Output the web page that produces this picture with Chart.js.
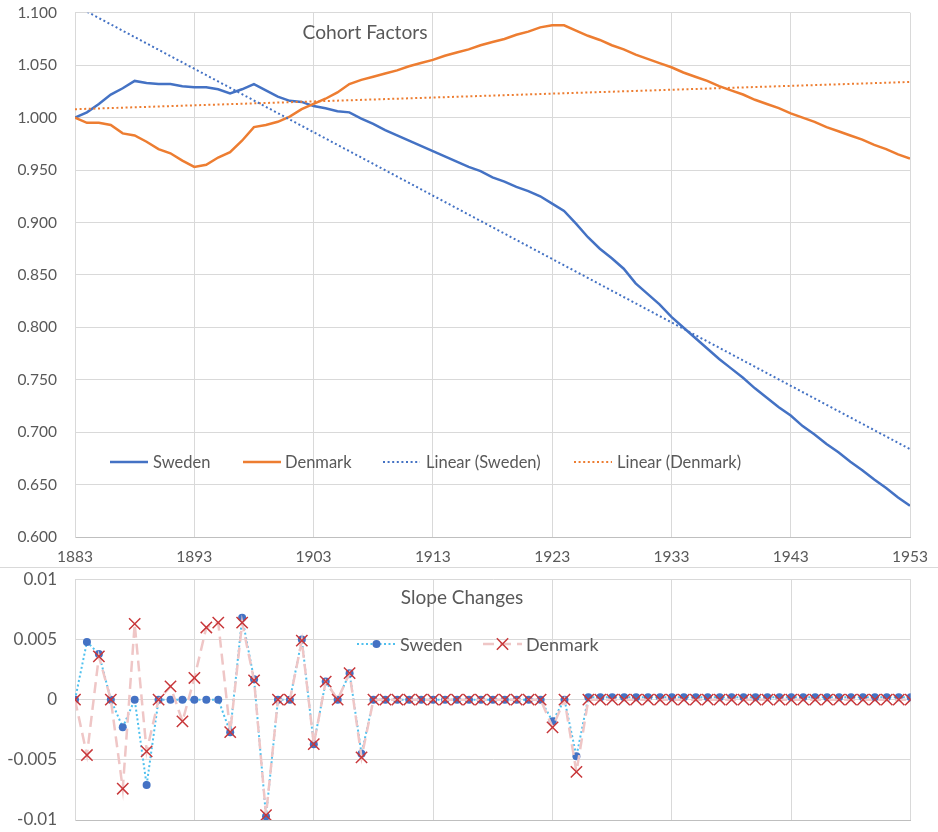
<!DOCTYPE html>
<html>
<head>
<meta charset="utf-8">
<script src="https://cdn.jsdelivr.net/npm/chart.js@4.4.1/dist/chart.umd.min.js"></script>
<style>
    body { margin: 0; background: #fff; }
    #top-wrap { position: absolute; left: 0; top: 0; width: 938px; height: 567px; }
    #sep { position: absolute; left: 0; top: 567px; width: 938px; height: 1px; background: #d9d9d9; }
    #bottom-wrap { position: absolute; left: 0; top: 568px; width: 938px; height: 264px; }
</style>
</head>
<body>
<div id="top-wrap"><canvas id="cohortChart" width="938" height="567"></canvas></div>
<div id="sep"></div>
<div id="bottom-wrap"><canvas id="slopeChart" width="938" height="264"></canvas></div>
<script>
// birth cohorts, one per year
const years = Array.from({ length: 71 }, (_, i) => 1883 + i);
const yearTicks = [1883, 1893, 1903, 1913, 1923, 1933, 1943, 1953];

// cohort factors
const swedenFactors = [
    1.000, 1.005, 1.013, 1.022, 1.028, 1.035, 1.033, 1.032, 1.032, 1.030,
    1.029, 1.029, 1.027, 1.023, 1.027, 1.032, 1.026, 1.020, 1.016, 1.015,
    1.011, 1.009, 1.006, 1.005, 0.999, 0.994, 0.988, 0.983, 0.978, 0.973,
    0.968, 0.963, 0.958, 0.953, 0.949, 0.943, 0.939, 0.934, 0.930, 0.925,
    0.918, 0.911, 0.899, 0.886, 0.875, 0.866, 0.856, 0.842, 0.832, 0.822,
    0.810, 0.800, 0.790, 0.780, 0.770, 0.761, 0.752, 0.742, 0.733, 0.724,
    0.716, 0.706, 0.698, 0.689, 0.681, 0.672, 0.664, 0.655, 0.647, 0.638,
    0.630
];
const denmarkFactors = [
    1.000, 0.995, 0.995, 0.993, 0.985, 0.983, 0.977, 0.970, 0.966, 0.959,
    0.953, 0.955, 0.962, 0.967, 0.978, 0.991, 0.993, 0.996, 1.001, 1.008,
    1.013, 1.018, 1.024, 1.032, 1.036, 1.039, 1.042, 1.045, 1.049, 1.052,
    1.055, 1.059, 1.062, 1.065, 1.069, 1.072, 1.075, 1.079, 1.082, 1.086,
    1.088, 1.088, 1.083, 1.078, 1.074, 1.069, 1.065, 1.060, 1.056, 1.052,
    1.048, 1.043, 1.039, 1.035, 1.030, 1.026, 1.022, 1.017, 1.013, 1.009,
    1.004, 1.000, 0.996, 0.991, 0.987, 0.983, 0.979, 0.974, 0.970, 0.965,
    0.961
];

// linear trend lines, end points
const trendYears = [1883, 1953];
const swedenTrend = [1.107, 0.684];
const denmarkTrend = [1.008, 1.034];

// slope changes
const swedenSlope = [
    0, 0.0048, 0.0038, 0, -0.0023, 0, -0.0071, 0, 0, 0,
    0, 0, 0, -0.0027, 0.0068, 0.0017, -0.0097, 0, 0, 0.0050,
    -0.0037, 0.0015, 0, 0.0022, -0.0045, 0, 0, 0, 0, 0,
    0, 0, 0, 0, 0, 0, 0, 0, 0, 0,
    -0.0018, 0, -0.0047, 0.0002, 0.0002, 0.0002, 0.0002, 0.0002, 0.0002, 0.0002,
    0.0002, 0.0002, 0.0002, 0.0002, 0.0002, 0.0002, 0.0002, 0.0002, 0.0002, 0.0002,
    0.0002, 0.0002, 0.0002, 0.0002, 0.0002, 0.0002, 0.0002, 0.0002, 0.0002, 0.0002,
    0.0002
];
const denmarkSlope = [
    0, -0.0046, 0.0036, 0, -0.0074, 0.0063, -0.0043, 0, 0.0011, -0.0018,
    0.0018, 0.0060, 0.0064, -0.0027, 0.0064, 0.0016, -0.0096, 0, 0, 0.0049,
    -0.0037, 0.0015, 0, 0.0022, -0.0048, 0, 0, 0, 0, 0,
    0, 0, 0, 0, 0, 0, 0, 0, 0, 0,
    -0.0023, 0, -0.0060, 0, 0, 0, 0, 0, 0, 0,
    0, 0, 0, 0, 0, 0, 0, 0, 0, 0,
    0, 0, 0, 0, 0, 0, 0, 0, 0, 0,
    0
];

const FONT = "Lato, 'Open Sans', sans-serif";
const TEXT = "#595959";
const GRID = "#d9d9d9";

const pairs = (xs, ys) => ys.map((v, i) => ({ x: xs[i], y: v }));

// draws the title and the legend inside the plot, like the Excel original
const overlayPlugin = {
    id: "overlay",
    afterDraw(chart, args, opts) {
        const ctx = chart.ctx;
        ctx.save();
        ctx.fillStyle = TEXT;
        ctx.textBaseline = "middle";
        ctx.textAlign = "center";
        ctx.font = opts.titleFont;
        ctx.fillText(opts.title, opts.titleX, opts.titleY);

        ctx.font = opts.legendFont;
        ctx.textAlign = "left";
        opts.items.forEach(item => {
            const ds = chart.data.datasets[item.ds];
            const y = opts.legendY;
            ctx.save();
            ctx.strokeStyle = ds.borderColor;
            ctx.lineWidth = ds.borderWidth;
            ctx.setLineDash(ds.borderDash || []);
            ctx.beginPath();
            ctx.moveTo(item.x, y);
            ctx.lineTo(item.x + item.len, y);
            ctx.stroke();
            ctx.setLineDash([]);
            const mx = item.x + item.len / 2;
            if (ds.pointStyle === "circle" && ds.pointRadius > 0) {
                ctx.fillStyle = ds.pointBackgroundColor;
                ctx.beginPath();
                ctx.arc(mx, y, ds.pointRadius, 0, Math.PI * 2);
                ctx.fill();
            } else if (ds.pointStyle === "crossRot" && ds.pointRadius > 0) {
                const r = ds.pointRadius * Math.SQRT1_2;
                ctx.strokeStyle = ds.pointBorderColor;
                ctx.lineWidth = ds.pointBorderWidth;
                ctx.beginPath();
                ctx.moveTo(mx - r, y - r);
                ctx.lineTo(mx + r, y + r);
                ctx.moveTo(mx + r, y - r);
                ctx.lineTo(mx - r, y + r);
                ctx.stroke();
            }
            ctx.restore();
            ctx.fillStyle = TEXT;
            ctx.fillText(ds.label, item.x + item.len + item.gap, y + 1);
        });
        ctx.restore();
    }
};

const xAxis = (fontSize, showLabels) => ({
    type: "linear",
    min: 1883,
    max: 1953,
    afterBuildTicks: scale => { scale.ticks = yearTicks.map(v => ({ value: v })); },
    ticks: {
        display: showLabels,
        callback: v => String(v),
        color: TEXT,
        font: { family: FONT, size: fontSize },
        padding: 10,
        maxRotation: 0
    },
    grid: { color: GRID, lineWidth: 1, drawTicks: false },
    border: { color: "#bfbfbf" }
});

// keep the tick padding from pushing the plot edges in
const fixYAxis = scale => {
    scale.width = 75;
    scale.paddingTop = 0;
    scale.paddingBottom = 0;
};

// upper chart: cohort factors
new Chart(document.getElementById("cohortChart"), {
    type: "line",
    data: {
        datasets: [
            {
                label: "Linear (Sweden)",
                data: pairs(trendYears, swedenTrend),
                borderColor: "#4472C4",
                borderWidth: 2,
                borderDash: [2, 2.6],
                pointRadius: 0,
                order: 0
            },
            {
                label: "Linear (Denmark)",
                data: pairs(trendYears, denmarkTrend),
                borderColor: "#ED7D31",
                borderWidth: 2,
                borderDash: [2, 2.6],
                pointRadius: 0,
                order: 1
            },
            {
                label: "Sweden",
                data: pairs(years, swedenFactors),
                borderColor: "#4472C4",
                borderWidth: 2.5,
                pointRadius: 0,
                order: 3
            },
            {
                label: "Denmark",
                data: pairs(years, denmarkFactors),
                borderColor: "#ED7D31",
                borderWidth: 2.5,
                pointRadius: 0,
                order: 2
            }
        ]
    },
    options: {
        responsive: false,
        animation: false,
        events: [],
        layout: { padding: { top: 12.7, right: 28, bottom: 0, left: 0 } },
        scales: {
            x: Object.assign(xAxis(15.5, true), {
                afterFit: scale => { scale.height = 29.7; }
            }),
            y: {
                min: 0.6,
                max: 1.1,
                ticks: {
                    stepSize: 0.05,
                    callback: v => v.toFixed(3),
                    color: TEXT,
                    font: { family: FONT, size: 15.5 },
                    padding: 18
                },
                afterFit: fixYAxis,
                grid: { color: GRID, lineWidth: 1, drawTicks: false },
                border: { color: GRID }
            }
        },
        plugins: {
            legend: { display: false },
            tooltip: { enabled: false },
            overlay: {
                title: "Cohort Factors",
                titleFont: "19.2px " + FONT,
                titleX: 365,
                titleY: 33,
                legendFont: "16.5px " + FONT,
                legendY: 462,
                items: [
                    { ds: 2, x: 110, len: 38, gap: 5 },
                    { ds: 3, x: 243, len: 38, gap: 4 },
                    { ds: 0, x: 383, len: 37, gap: 6 },
                    { ds: 1, x: 574, len: 38, gap: 5 }
                ]
            }
        }
    },
    plugins: [overlayPlugin]
});

// lower chart: slope changes
new Chart(document.getElementById("slopeChart"), {
    type: "line",
    data: {
        datasets: [
            {
                label: "Sweden",
                data: pairs(years, swedenSlope),
                borderColor: "#4FC0EE",
                borderWidth: 2,
                borderDash: [2, 2.5],
                pointStyle: "circle",
                pointRadius: 4,
                pointBackgroundColor: "#4472C4",
                pointBorderColor: "#4472C4",
                pointBorderWidth: 0,
                order: 1
            },
            {
                label: "Denmark",
                data: pairs(years, denmarkSlope),
                borderColor: "#EFC6C6",
                borderWidth: 2.5,
                borderDash: [11, 6],
                pointStyle: "crossRot",
                pointRadius: 8,
                pointBorderColor: "#C8373A",
                pointBorderWidth: 1.5,
                order: 0
            }
        ]
    },
    options: {
        responsive: false,
        animation: false,
        events: [],
        layout: { padding: { top: 11.3, right: 27.3, bottom: 12, left: 0 } },
        scales: {
            x: Object.assign(xAxis(17, false), {
                afterFit: scale => { scale.height = 0; }
            }),
            y: {
                min: -0.01,
                max: 0.01,
                ticks: {
                    stepSize: 0.005,
                    callback: v => String(Number(v.toFixed(3))),
                    color: TEXT,
                    font: { family: FONT, size: 17 },
                    padding: 18
                },
                afterFit: fixYAxis,
                grid: { color: GRID, lineWidth: 1, drawTicks: false },
                border: { color: GRID }
            }
        },
        plugins: {
            legend: { display: false },
            tooltip: { enabled: false },
            overlay: {
                title: "Slope Changes",
                titleFont: "19px " + FONT,
                titleX: 462,
                titleY: 30,
                legendFont: "18px " + FONT,
                legendY: 76,
                items: [
                    { ds: 0, x: 357, len: 39, gap: 4 },
                    { ds: 1, x: 483, len: 39, gap: 4 }
                ]
            }
        }
    },
    plugins: [overlayPlugin]
});
</script>
</body>
</html>
